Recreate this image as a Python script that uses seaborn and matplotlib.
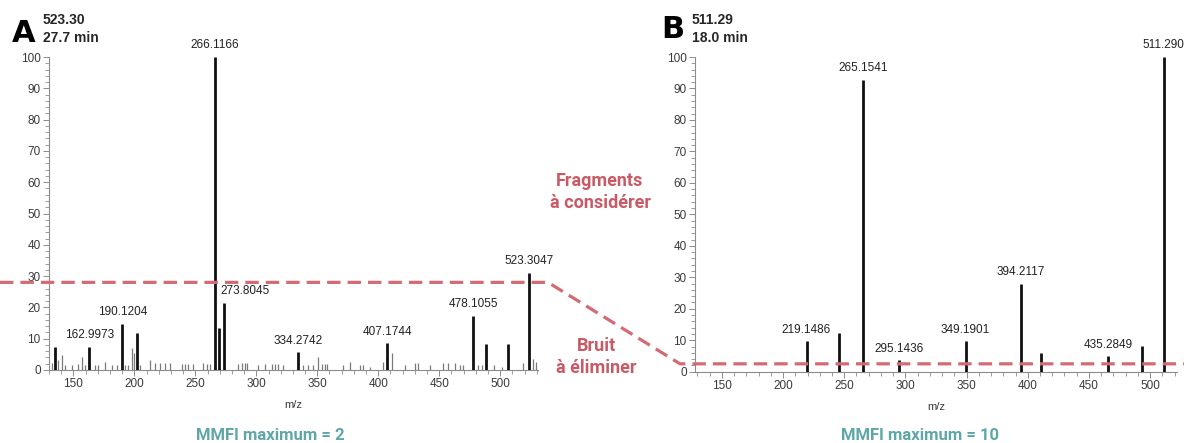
import matplotlib
matplotlib.use("Agg")
import matplotlib.pyplot as plt
from matplotlib.lines import Line2D
from matplotlib.ticker import MultipleLocator
import seaborn as sns

sns.set_theme(style="ticks")
plt.rcParams['font.family'] = ['Liberation Sans', 'DejaVu Sans']

# Panel A: labelled / main fragments (m/z, relative intensity %)
a_mz = [135.0, 162.9973, 190.1204, 202.2, 266.1166, 269.5, 273.8045,
        334.2742, 407.1744, 478.1055, 488.5, 506.0, 523.3047]
a_int = [7.5, 7.5, 14.7, 11.7, 100.0, 13.5, 21.4,
         5.7, 8.6, 17.3, 8.3, 8.3, 31.0]
a_labels = ["", "162.9973", "190.1204", "", "266.1166", "", "273.8045",
            "334.2742", "407.1744", "478.1055", "", "", "523.3047"]

# Panel A: background noise
noise_mz = [132.2, 137.6, 140.4, 143.1, 148.6, 154.0, 156.8, 159.5, 167.7, 170.5,
            175.9, 181.4, 185.5, 192.3, 195.0, 198.3, 200.0, 204.6, 212.9, 217.0,
            221.0, 225.2, 229.3, 238.8, 241.6, 244.3, 248.4, 256.6, 259.4, 262.0,
            285.3, 288.0, 290.8, 292.2, 301.7, 307.2, 312.7, 315.4, 318.1, 322.2,
            338.6, 342.7, 346.8, 350.9, 353.7, 356.4, 357.8, 371.4, 376.9, 385.1,
            387.8, 393.3, 404.2, 411.1, 422.1, 430.2, 432.9, 442.5, 453.5, 457.6,
            463.0, 467.2, 469.9, 482.2, 485.0, 494.6, 501.4, 519.1, 527.3, 529.5]
noise_int = [2.1, 3.2, 4.8, 1.6, 1.6, 2.0, 4.3, 1.6, 1.6, 1.6,
             2.7, 1.6, 1.6, 1.6, 1.6, 6.9, 5.3, 1.6, 3.2, 2.1,
             2.1, 2.1, 2.3, 1.8, 1.8, 1.8, 1.8, 2.1, 1.8, 1.8,
             1.8, 2.2, 2.2, 2.2, 1.6, 1.8, 2.0, 2.0, 2.0, 1.5,
             1.6, 1.6, 1.6, 4.3, 2.0, 2.0, 2.0, 1.6, 2.7, 1.6,
             1.6, 1.1, 2.7, 5.3, 1.6, 2.1, 2.1, 1.6, 2.1, 2.1,
             2.1, 1.6, 1.6, 1.6, 1.6, 1.6, 1.1, 2.1, 3.4, 2.7]

# Panel B
b_mz = [219.1486, 246.0, 265.1541, 295.1436, 349.1901, 394.2117, 410.8,
        465.6, 493.4, 511.29]
b_int = [9.6, 12.4, 92.7, 3.7, 9.6, 27.9, 6.0, 4.9, 8.2, 100.0]
b_labels = ["219.1486", "", "265.1541", "295.1436", "349.1901", "394.2117", "",
            "435.2849", "", "511.290"]

thr_a = 28.0
thr_b = 2.5

W, H = 1184, 443
fig = plt.figure(figsize=(W / 100, H / 100), dpi=100)


def fx(x):
    return x / W


def fy(y):
    return 1 - y / H


def style_axis(ax, xlim):
    ax.set_xlim(*xlim)
    ax.set_ylim(0, 100)
    sns.despine(ax=ax)
    for s in ("left", "bottom"):
        ax.spines[s].set_color("#8c8c8c")
        ax.spines[s].set_linewidth(0.8)
    ax.xaxis.set_major_locator(MultipleLocator(50))
    ax.xaxis.set_minor_locator(MultipleLocator(10))
    ax.yaxis.set_major_locator(MultipleLocator(10))
    ax.yaxis.set_minor_locator(MultipleLocator(2))
    ax.tick_params(which="major", length=4, width=0.7, color="#8c8c8c",
                   labelsize=8.5, labelcolor="#3a3a3a", pad=2)
    ax.tick_params(which="minor", length=3, width=0.6, color="#8c8c8c")
    ax.set_xlabel("m/z", fontsize=8, color="#3a3a3a", labelpad=7)
    ax.set_ylabel("")
    ax.patch.set_alpha(0)


def draw_peaks(ax, mz, inten, labels, offsets=None):
    ax.vlines(mz, 0, inten, color="#111111", linewidth=2.0, zorder=3)
    for i, (m, v, lab) in enumerate(zip(mz, inten, labels)):
        if not lab:
            continue
        dx = 0
        ha = "center"
        if offsets and lab in offsets:
            dx, ha = offsets[lab]
        ax.annotate(lab, xy=(m, v), xytext=(dx, 4), textcoords="offset points",
                    ha=ha, va="bottom", fontsize=8.5, color="#222222",
                    annotation_clip=False)


# Panel A
axA = fig.add_axes([fx(49), fy(370), fx(538) - fx(49), fy(57) - fy(370)])
style_axis(axA, (130, 531))
axA.vlines(noise_mz, 0, noise_int, color="#7a7a7a", linewidth=0.9, zorder=2)
draw_peaks(axA, a_mz, a_int, a_labels, offsets={"273.8045": (-3, "left")})

# Panel B
axB = fig.add_axes([fx(695), fy(371.7), fx(1177) - fx(695), fy(57) - fy(371.7)])
style_axis(axB, (128, 522))
draw_peaks(axB, b_mz, b_int, b_labels)

# threshold line crossing both panels
ya = axA.transData.transform((150, thr_a))[1] / H
yb = axB.transData.transform((150, thr_b))[1] / H
fig.add_artist(Line2D([0, fx(548), fx(680), 1], [ya, ya, yb, yb],
                      transform=fig.transFigure, color="#d46a74",
                      linewidth=2.3, dashes=(4.2, 2.2), zorder=10))

# panel titles
fig.text(fx(24), fy(33), "A", fontsize=22, fontweight="bold",
         family=["DejaVu Sans"], ha="center", va="center", color="black")
fig.text(fx(43), fy(13), "523.30\n27.7 min", fontsize=10, fontweight="bold",
         ha="left", va="top", linespacing=1.35)
fig.text(fx(673), fy(30), "B", fontsize=22, fontweight="bold",
         family=["DejaVu Sans"], ha="center", va="center", color="black")
fig.text(fx(692), fy(13), "511.29\n18.0 min", fontsize=10, fontweight="bold",
         ha="left", va="top", linespacing=1.35)

# annotations
red = "#c85a66"
fig.text(fx(600), fy(192), "Fragments\nà considérer", fontsize=13,
         family=["Roboto", "DejaVu Sans"], fontweight="bold", color=red,
         ha="center", va="center", linespacing=1.35)
fig.text(fx(596), fy(357), "Bruit\nà éliminer", fontsize=13,
         family=["Roboto", "DejaVu Sans"], fontweight="bold", color=red,
         ha="center", va="center", linespacing=1.35)

teal = "#5ea7a6"
fig.text(fx(270), fy(436), "MMFI maximum = 2", fontsize=12,
         family=["Roboto", "DejaVu Sans"], fontweight="bold", color=teal,
         ha="center", va="center")
fig.text(fx(920), fy(436), "MMFI maximum = 10", fontsize=12,
         family=["Roboto", "DejaVu Sans"], fontweight="bold", color=teal,
         ha="center", va="center")

fig.savefig("out.png", dpi=100, facecolor="white")
